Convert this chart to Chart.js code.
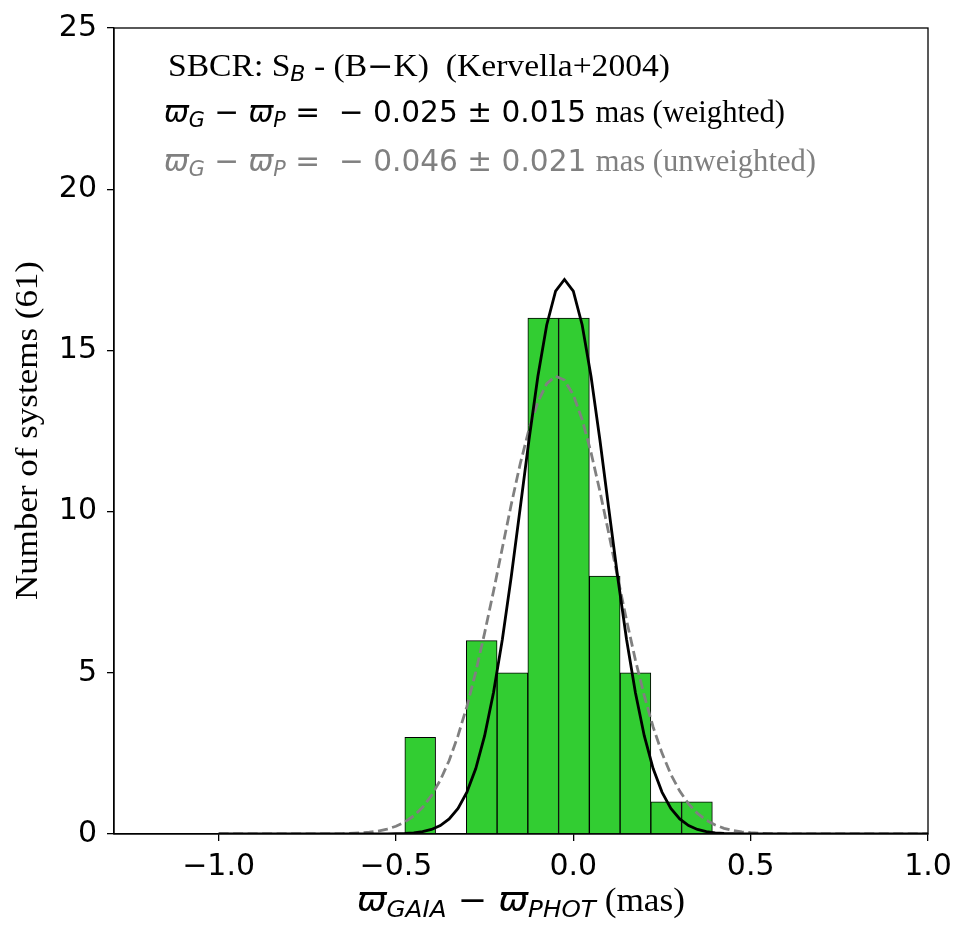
<!DOCTYPE html>
<html>
<head>
<meta charset="utf-8">
<script src="https://cdn.jsdelivr.net/npm/chart.js@4.4.1/dist/chart.umd.min.js"></script>
<style>
  body { margin: 0; background: #fff; }
  canvas { display: block; }
</style>
</head>
<body>
<canvas id="hist" width="969" height="940"></canvas>
<script>
// Histogram bins (mas) and counts
const binEdges = [-0.4750, -0.3883, -0.3016, -0.2149, -0.1282, -0.0415, 0.0452, 0.1319, 0.2186, 0.3053, 0.3920];
const counts = [3, 0, 6, 5, 16, 16, 8, 5, 1, 1];

// Gaussian curves
const curveX = [-1.0, -0.8, -0.7, -0.65,
  -0.6, -0.575, -0.55, -0.525, -0.5, -0.475, -0.45, -0.425, -0.4, -0.375, -0.35, -0.325,
  -0.3, -0.275, -0.25, -0.225, -0.2, -0.175, -0.15, -0.125, -0.1, -0.075, -0.05, -0.025,
  0, 0.025, 0.05, 0.075, 0.1, 0.125, 0.15, 0.175, 0.2, 0.225, 0.25, 0.275,
  0.3, 0.325, 0.35, 0.375, 0.4, 0.425, 0.45, 0.475, 0.5, 0.525, 0.55, 0.575, 0.6,
  0.65, 0.7, 0.8, 1.0];
const weightedY = [0, 0, 0, 0,
  0, 0.001, 0.001, 0.003, 0.008, 0.017, 0.036, 0.073, 0.141, 0.262, 0.467, 0.795,
  1.30, 2.03, 3.05, 4.39, 6.04, 7.98, 10.09, 12.22, 14.19, 15.79, 16.84, 17.2,
  16.84, 15.79, 14.19, 12.22, 10.09, 7.98, 6.04, 4.39, 3.05, 2.03, 1.30, 0.795,
  0.467, 0.262, 0.141, 0.073, 0.036, 0.017, 0.008, 0.003, 0.001, 0.001, 0, 0, 0,
  0, 0, 0, 0];
const unweightedY = [0, 0, 0.003, 0.010,
  0.033, 0.056, 0.093, 0.152, 0.241, 0.373, 0.563, 0.829, 1.19, 1.67, 2.28, 3.05,
  3.96, 5.03, 6.24, 7.53, 8.88, 10.22, 11.47, 12.55, 13.40, 13.97, 14.20, 14.08,
  13.62, 12.85, 11.83, 10.63, 9.32, 7.96, 6.64, 5.40, 4.29, 3.32, 2.51, 1.85,
  1.33, 0.933, 0.639, 0.427, 0.278, 0.177, 0.109, 0.066, 0.039, 0.022, 0.013, 0.007, 0.004,
  0.001, 0, 0, 0];

const xTicks = [-1.0, -0.5, 0.0, 0.5, 1.0];
const yTicks = [0, 5, 10, 15, 20, 25];

const TIMES = '"Liberation Serif", "Times New Roman", serif';
const DEJAVU = '"DejaVu Sans", sans-serif';
const GREY = "#808080";

// draw a row of text pieces with different fonts, stretched to a given width
function drawFitted(ctx, x, y, width, runs) {
  let natural = 0;
  runs.forEach((r) => { ctx.font = r.font; natural += ctx.measureText(r.text).width; });
  ctx.save();
  ctx.translate(x, y);
  ctx.scale(width / natural, 1);
  let cx = 0;
  runs.forEach((r) => {
    ctx.font = r.font;
    ctx.fillStyle = r.color || "#000";
    ctx.fillText(r.text, cx, r.dy || 0);
    cx += ctx.measureText(r.text).width;
  });
  ctx.restore();
}

function mathLine(value, err, note, color) {
  const m = `30px ${DEJAVU}`, it = `italic 30px ${DEJAVU}`, sub = `italic 21px ${DEJAVU}`;
  return [
    { text: "ϖ", font: it, color }, { text: "G", font: sub, color, dy: 5 },
    { text: " − ", font: m, color },
    { text: "ϖ", font: it, color }, { text: "P", font: sub, color, dy: 5 },
    { text: " =  − ", font: m, color },
    { text: `${value} ± ${err} `, font: m, color },
    { text: note, font: `31px ${TIMES}`, color },
  ];
}

const textPlugin = {
  id: "texts",
  afterDraw(chart) {
    const ctx = chart.ctx;
    const a = chart.chartArea;
    ctx.save();
    // frame
    ctx.strokeStyle = "#000";
    ctx.lineWidth = 1.3;
    ctx.strokeRect(a.left, a.top, a.right - a.left, a.bottom - a.top);

    ctx.textBaseline = "alphabetic";
    ctx.textAlign = "left";
    const tf = `32px ${TIMES}`;
    drawFitted(ctx, 168, 76, 502, [
      { text: "SBCR: S", font: tf },
      { text: "B", font: `italic 21px ${DEJAVU}`, dy: 5 },
      { text: " - (B", font: tf },
      { text: "−", font: `30px ${DEJAVU}` },
      { text: "K)  (Kervella+2004)", font: tf },
    ]);
    drawFitted(ctx, 164, 122, 621, mathLine("0.025", "0.015", "mas (weighted)", "#000"));
    drawFitted(ctx, 164, 171, 652, mathLine("0.046", "0.021", "mas (unweighted)", GREY));

    // x axis title
    drawFitted(ctx, 357, 911, 328, [
      { text: "ϖ", font: `italic 33px ${DEJAVU}` },
      { text: "GAIA", font: `italic 23px ${DEJAVU}`, dy: 6 },
      { text: " − ", font: `33px ${DEJAVU}` },
      { text: "ϖ", font: `italic 33px ${DEJAVU}` },
      { text: "PHOT", font: `italic 23px ${DEJAVU}`, dy: 6 },
      { text: " (mas)", font: `33px ${TIMES}` },
    ]);

    // y axis title
    ctx.translate(37, 600);
    ctx.rotate(-Math.PI / 2);
    drawFitted(ctx, 0, 0, 339, [{ text: "Number of systems (61)", font: `32px ${TIMES}` }]);
    ctx.restore();
  },
};

const bars = counts.map((c, i) => ({ x: (binEdges[i] + binEdges[i + 1]) / 2, y: c }));
const weighted = curveX.map((x, i) => ({ x, y: weightedY[i] }));
const unweighted = curveX.map((x, i) => ({ x, y: unweightedY[i] }));

const tickFont = { family: "DejaVu Sans", size: 30 };
const axisGrid = { offset: false, drawOnChartArea: false, drawTicks: true, tickLength: 7, color: "#000", lineWidth: 1.3 };

new Chart(document.getElementById("hist"), {
  type: "bar",
  data: {
    datasets: [
      { type: "line", data: weighted, borderColor: "#000", borderWidth: 2.8, pointRadius: 0, tension: 0, order: 1 },
      { type: "line", data: unweighted, borderColor: GREY, borderWidth: 2.8, borderDash: [10, 4.5], pointRadius: 0, tension: 0, order: 2 },
      { type: "bar", data: bars, backgroundColor: "#32cd32", borderColor: "#000", borderWidth: 1,
        barPercentage: 1, categoryPercentage: 1, order: 3 },
    ],
  },
  options: {
    responsive: false,
    animation: false,
    events: [],
    plugins: { legend: { display: false }, tooltip: { enabled: false } },
    layout: { padding: { top: 26, right: 41, left: 0, bottom: 0 } },
    scales: {
      x: {
        type: "linear", min: -1.295, max: 1.0, offset: false,
        grid: axisGrid,
        border: { display: true, color: "#000", width: 1.3 },
        ticks: { font: tickFont, color: "#000", padding: 8,
          callback: (v) => v.toFixed(1).replace("-", "−") },
        afterBuildTicks: (s) => { s.ticks = xTicks.map((v) => ({ value: v })); },
        afterFit: (s) => { s.height = 106; },
      },
      y: {
        min: 0, max: 25,
        grid: axisGrid,
        border: { display: true, color: "#000", width: 1.3 },
        ticks: { font: tickFont, color: "#000", padding: 10 },
        afterBuildTicks: (s) => { s.ticks = yTicks.map((v) => ({ value: v })); },
        afterFit: (s) => { s.width = 114; },
      },
    },
  },
  plugins: [textPlugin],
});
</script>
</body>
</html>
